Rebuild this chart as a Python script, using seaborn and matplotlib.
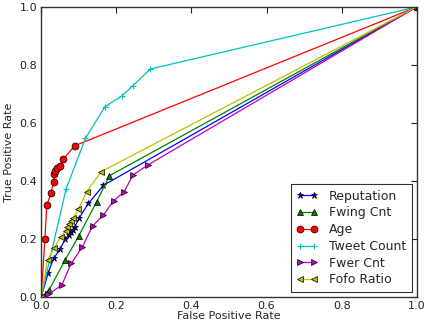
import numpy as np
import pandas as pd
import matplotlib
matplotlib.use("Agg")
import matplotlib.pyplot as plt
import seaborn as sns

names = ["Reputation", "Fwing Cnt", "Age", "Tweet Count", "Fwer Cnt", "Fofo Ratio"]

rep_fpr = [0.0, 0.019, 0.033, 0.050, 0.064, 0.073, 0.079, 0.084, 0.090, 0.102, 0.126, 0.166, 1.0]
rep_tpr = [0.0, 0.084, 0.133, 0.164, 0.199, 0.214, 0.225, 0.231, 0.243, 0.274, 0.323, 0.385, 1.0]

fwing_fpr = [0.0, 0.021, 0.064, 0.100, 0.148, 0.182, 1.0]
fwing_tpr = [0.0, 0.024, 0.128, 0.210, 0.329, 0.418, 1.0]

age_fpr = [0.0, 0.010, 0.015, 0.026, 0.033, 0.035, 0.038, 0.042, 0.049, 0.059, 0.089, 1.0]
age_tpr = [0.0, 0.199, 0.316, 0.358, 0.395, 0.424, 0.436, 0.444, 0.452, 0.475, 0.521, 1.0]

tweet_fpr = [0.0, 0.066, 0.118, 0.170, 0.215, 0.245, 0.291, 1.0]
tweet_tpr = [0.0, 0.371, 0.547, 0.656, 0.693, 0.729, 0.786, 1.0]

fwer_fpr = [0.0, 0.019, 0.055, 0.080, 0.110, 0.137, 0.166, 0.193, 0.221, 0.245, 0.284, 1.0]
fwer_tpr = [0.0, 0.009, 0.041, 0.116, 0.173, 0.245, 0.283, 0.332, 0.363, 0.421, 0.455, 1.0]

fofo_fpr = [0.0, 0.017, 0.035, 0.052, 0.065, 0.070, 0.075, 0.079, 0.084, 0.099, 0.121, 0.160, 1.0]
fofo_tpr = [0.0, 0.128, 0.170, 0.206, 0.228, 0.240, 0.252, 0.263, 0.271, 0.302, 0.363, 0.432, 1.0]

sns.set_style("white")
plt.rcParams["font.family"] = ["DejaVu Sans"]

fig = plt.figure(figsize=(4.24, 3.28), dpi=100)
ax = fig.add_axes([0.097, 0.0945, 0.886, 0.8845])

series = [
    (names[0], rep_fpr, rep_tpr, "*", (0, 0, 1)),
    (names[1], fwing_fpr, fwing_tpr, "^", (0, 0.5, 0)),
    (names[2], age_fpr, age_tpr, "o", (1, 0, 0)),
    (names[3], tweet_fpr, tweet_tpr, "+", (0, 0.75, 0.75)),
    (names[4], fwer_fpr, fwer_tpr, ">", (0.75, 0, 0.75)),
    (names[5], fofo_fpr, fofo_tpr, "<", (0.75, 0.75, 0)),
]

for name, fx, fy, mk, col in series:
    df = pd.DataFrame({"fpr": fx, "tpr": fy})
    sns.lineplot(data=df, x="fpr", y="tpr", sort=False, estimator=None,
                 marker=mk, color=col, linewidth=0.9, markersize=5,
                 markeredgecolor="black" if mk != "+" else col,
                 markeredgewidth=0.5 if mk != "+" else 0.8,
                 label=name, ax=ax)

ax.set_xlim(0, 1)
ax.set_ylim(0, 1)
ax.set_xticks([0.0, 0.2, 0.4, 0.6, 0.8, 1.0])
ax.set_yticks([0.0, 0.2, 0.4, 0.6, 0.8, 1.0])
ax.tick_params(direction="in", top=True, right=True, length=4, width=0.8,
               labelsize=8, pad=3, colors="#222222")
for s in ax.spines.values():
    s.set_color("#333333")
    s.set_linewidth(1.0)
ax.set_xlabel("False Positive Rate", fontsize=8, labelpad=0)
ax.set_ylabel("True Positive Rate", fontsize=8, labelpad=4)

leg = ax.legend(loc="lower right", numpoints=2, fontsize=9, frameon=True,
                fancybox=False, borderaxespad=0.4, handlelength=1.7,
                handletextpad=0.9, labelspacing=0.3, borderpad=0.45)
leg.get_frame().set_edgecolor("black")
leg.get_frame().set_linewidth(0.8)

fig.savefig("out.png", dpi=100)
